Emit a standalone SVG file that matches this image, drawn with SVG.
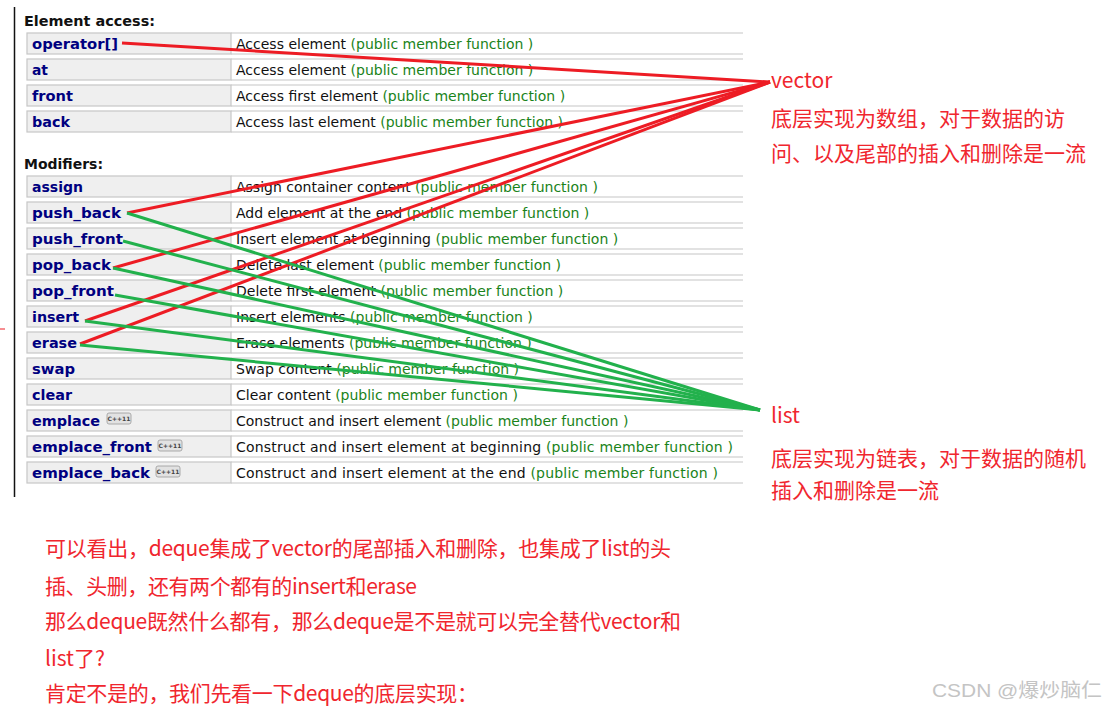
<svg xmlns="http://www.w3.org/2000/svg" width="1106" height="711" viewBox="0 0 1106 711">
<style>
.h{font-family:"DejaVu Sans","Liberation Sans",sans-serif;font-size:14px;font-weight:bold;fill:#111}
.k{font-family:"DejaVu Sans","Liberation Sans",sans-serif;font-size:14px;font-weight:bold;fill:#000080}
.d{font-family:"DejaVu Sans","Liberation Sans",sans-serif;font-size:14px;fill:#111}
.g{fill:#1a831a}
.lc{fill:#efefef;stroke:#c6c6c6;stroke-width:1.2}
.rl{stroke:#c6c6c6;stroke-width:1.2}
.badge{fill:#e2e2e2;stroke:#9a9a9a;stroke-width:0.8}
.bt{font-family:"DejaVu Sans","Liberation Sans",sans-serif;font-size:6px;font-weight:bold;fill:#444}
.r{stroke:#ed1c24;stroke-width:3;fill:none}
.gr{stroke:#22b14c;stroke-width:3;fill:none}
.cn{font-family:"Noto Sans CJK SC","Microsoft YaHei",sans-serif;font-size:21px;fill:#f0262e}
.wm{font-family:"Liberation Sans","Noto Sans CJK SC",sans-serif;font-size:19px;fill:#c4c4c4}
</style>
<defs>
<g id="badge"><rect class="badge" x="0" y="0" width="24" height="11" rx="2"/><text class="bt" x="12" y="8" text-anchor="middle">C++11</text></g>
</defs>
<rect width="1106" height="711" fill="#fff"/>
<line x1="14.5" y1="7" x2="14.5" y2="497" stroke="#111" stroke-width="1.5"/>
<line x1="0" y1="329" x2="5" y2="329" stroke="#ed1c24" stroke-width="1"/>

<g id="heading-element-access"><text class="h" x="24" y="26" textLength="131" lengthAdjust="spacingAndGlyphs">Element access:</text></g>
<g id="heading-modifiers"><text class="h" x="24" y="169" textLength="79" lengthAdjust="spacingAndGlyphs">Modifiers:</text></g>

<g id="row-operator">
<rect class="lc" x="27" y="33" width="204" height="21"/><line class="rl" x1="231" y1="33" x2="743" y2="33"/><line class="rl" x1="231" y1="54" x2="743" y2="54"/>
<text class="k" x="32" y="49" textLength="86" lengthAdjust="spacingAndGlyphs">operator[]</text><text class="d" x="236" y="49">Access element <tspan class="g">(public member function )</tspan></text></g>
<g id="row-at">
<rect class="lc" x="27" y="59" width="204" height="21"/><line class="rl" x1="231" y1="59" x2="743" y2="59"/><line class="rl" x1="231" y1="80" x2="743" y2="80"/>
<text class="k" x="32" y="75" textLength="16" lengthAdjust="spacingAndGlyphs">at</text><text class="d" x="236" y="75">Access element <tspan class="g">(public member function )</tspan></text></g>
<g id="row-front">
<rect class="lc" x="27" y="85" width="204" height="21"/><line class="rl" x1="231" y1="85" x2="743" y2="85"/><line class="rl" x1="231" y1="106" x2="743" y2="106"/>
<text class="k" x="32" y="101" textLength="41" lengthAdjust="spacingAndGlyphs">front</text><text class="d" x="236" y="101">Access first element <tspan class="g">(public member function )</tspan></text></g>
<g id="row-back">
<rect class="lc" x="27" y="111" width="204" height="21"/><line class="rl" x1="231" y1="111" x2="743" y2="111"/><line class="rl" x1="231" y1="132" x2="743" y2="132"/>
<text class="k" x="32" y="127" textLength="38" lengthAdjust="spacingAndGlyphs">back</text><text class="d" x="236" y="127">Access last element <tspan class="g">(public member function )</tspan></text></g>

<g id="row-assign">
<rect class="lc" x="27" y="176" width="204" height="21"/><line class="rl" x1="231" y1="176" x2="743" y2="176"/><line class="rl" x1="231" y1="197" x2="743" y2="197"/>
<text class="k" x="32" y="192" textLength="51" lengthAdjust="spacingAndGlyphs">assign</text><text class="d" x="236" y="192">Assign container content <tspan class="g">(public member function )</tspan></text></g>
<g id="row-push_back">
<rect class="lc" x="27" y="202" width="204" height="21"/><line class="rl" x1="231" y1="202" x2="743" y2="202"/><line class="rl" x1="231" y1="223" x2="743" y2="223"/>
<text class="k" x="32" y="218" textLength="89" lengthAdjust="spacingAndGlyphs">push_back</text><text class="d" x="236" y="218">Add element at the end <tspan class="g">(public member function )</tspan></text></g>
<g id="row-push_front">
<rect class="lc" x="27" y="228" width="204" height="21"/><line class="rl" x1="231" y1="228" x2="743" y2="228"/><line class="rl" x1="231" y1="249" x2="743" y2="249"/>
<text class="k" x="32" y="244" textLength="91" lengthAdjust="spacingAndGlyphs">push_front</text><text class="d" x="236" y="244">Insert element at beginning <tspan class="g">(public member function )</tspan></text></g>
<g id="row-pop_back">
<rect class="lc" x="27" y="254" width="204" height="21"/><line class="rl" x1="231" y1="254" x2="743" y2="254"/><line class="rl" x1="231" y1="275" x2="743" y2="275"/>
<text class="k" x="32" y="270" textLength="79" lengthAdjust="spacingAndGlyphs">pop_back</text><text class="d" x="236" y="270">Delete last element <tspan class="g">(public member function )</tspan></text></g>
<g id="row-pop_front">
<rect class="lc" x="27" y="280" width="204" height="21"/><line class="rl" x1="231" y1="280" x2="743" y2="280"/><line class="rl" x1="231" y1="301" x2="743" y2="301"/>
<text class="k" x="32" y="296" textLength="82" lengthAdjust="spacingAndGlyphs">pop_front</text><text class="d" x="236" y="296">Delete first element <tspan class="g">(public member function )</tspan></text></g>
<g id="row-insert">
<rect class="lc" x="27" y="306" width="204" height="21"/><line class="rl" x1="231" y1="306" x2="743" y2="306"/><line class="rl" x1="231" y1="327" x2="743" y2="327"/>
<text class="k" x="32" y="322" textLength="47" lengthAdjust="spacingAndGlyphs">insert</text><text class="d" x="236" y="322">Insert elements <tspan class="g">(public member function )</tspan></text></g>
<g id="row-erase">
<rect class="lc" x="27" y="332" width="204" height="21"/><line class="rl" x1="231" y1="332" x2="743" y2="332"/><line class="rl" x1="231" y1="353" x2="743" y2="353"/>
<text class="k" x="32" y="348" textLength="45" lengthAdjust="spacingAndGlyphs">erase</text><text class="d" x="236" y="348">Erase elements <tspan class="g">(public member function )</tspan></text></g>
<g id="row-swap">
<rect class="lc" x="27" y="358" width="204" height="21"/><line class="rl" x1="231" y1="358" x2="743" y2="358"/><line class="rl" x1="231" y1="379" x2="743" y2="379"/>
<text class="k" x="32" y="374" textLength="43" lengthAdjust="spacingAndGlyphs">swap</text><text class="d" x="236" y="374">Swap content <tspan class="g">(public member function )</tspan></text></g>
<g id="row-clear">
<rect class="lc" x="27" y="384" width="204" height="21"/><line class="rl" x1="231" y1="384" x2="743" y2="384"/><line class="rl" x1="231" y1="405" x2="743" y2="405"/>
<text class="k" x="32" y="400" textLength="40" lengthAdjust="spacingAndGlyphs">clear</text><text class="d" x="236" y="400">Clear content <tspan class="g">(public member function )</tspan></text></g>
<g id="row-emplace">
<rect class="lc" x="27" y="410" width="204" height="21"/><line class="rl" x1="231" y1="410" x2="743" y2="410"/><line class="rl" x1="231" y1="431" x2="743" y2="431"/>
<text class="k" x="32" y="426" textLength="68" lengthAdjust="spacingAndGlyphs">emplace</text><use href="#badge" x="107" y="413"/><text class="d" x="236" y="426">Construct and insert element <tspan class="g">(public member function )</tspan></text></g>
<g id="row-emplace_front">
<rect class="lc" x="27" y="436" width="204" height="21"/><line class="rl" x1="231" y1="436" x2="743" y2="436"/><line class="rl" x1="231" y1="457" x2="743" y2="457"/>
<text class="k" x="32" y="452" textLength="120" lengthAdjust="spacingAndGlyphs">emplace_front</text><use href="#badge" x="158" y="440"/><text class="d" x="236" y="452" textLength="497" lengthAdjust="spacing">Construct and insert element at beginning <tspan class="g">(public member function )</tspan></text></g>
<g id="row-emplace_back">
<rect class="lc" x="27" y="462" width="204" height="21"/><line class="rl" x1="231" y1="462" x2="743" y2="462"/><line class="rl" x1="231" y1="483" x2="743" y2="483"/>
<text class="k" x="32" y="478" textLength="118" lengthAdjust="spacingAndGlyphs">emplace_back</text><use href="#badge" x="156" y="466"/><text class="d" x="236" y="478" textLength="482" lengthAdjust="spacing">Construct and insert element at the end <tspan class="g">(public member function )</tspan></text></g>

<g id="connectors">
<line class="r" x1="122" y1="43" x2="770" y2="82"/>
<line class="r" x1="127" y1="213" x2="770" y2="82"/>
<line class="r" x1="113" y1="268" x2="770" y2="82"/>
<line class="r" x1="85" y1="321" x2="770" y2="82"/>
<line class="r" x1="80" y1="344" x2="770" y2="82"/>
<line class="gr" x1="127" y1="213" x2="760" y2="410"/>
<line class="gr" x1="123" y1="241" x2="760" y2="410"/>
<line class="gr" x1="113" y1="268" x2="760" y2="410"/>
<line class="gr" x1="115" y1="295" x2="760" y2="410"/>
<line class="gr" x1="85" y1="321" x2="760" y2="410"/>
<line class="gr" x1="80" y1="345" x2="760" y2="410"/>
</g>

<g id="vector-label">
<text class="cn" x="771" y="88">vector</text>
<text class="cn" x="771" y="126">底层实现为数组，对于数据的访</text>
<text class="cn" x="771" y="161">问、以及尾部的插入和删除是一流</text>
</g>
<g id="list-label">
<text class="cn" x="771" y="423">list</text>
<text class="cn" x="771" y="466">底层实现为链表，对于数据的随机</text>
<text class="cn" x="771" y="498">插入和删除是一流</text>
</g>
<g id="note">
<text class="cn" x="45" y="556" textLength="626" lengthAdjust="spacing">可以看出，deque集成了vector的尾部插入和删除，也集成了list的头</text>
<text class="cn" x="45" y="594" textLength="372" lengthAdjust="spacing">插、头删，还有两个都有的insert和erase</text>
<text class="cn" x="45" y="629" textLength="636" lengthAdjust="spacing">那么deque既然什么都有，那么deque是不是就可以完全替代vector和</text>
<text class="cn" x="45" y="666">list了?</text>
<text class="cn" x="45" y="701" textLength="433" lengthAdjust="spacing">肯定不是的，我们先看一下deque的底层实现：</text>
</g>
<g id="watermark"><text class="wm" x="932" y="697" textLength="170" lengthAdjust="spacingAndGlyphs">CSDN @爆炒脑仁</text></g>
</svg>
